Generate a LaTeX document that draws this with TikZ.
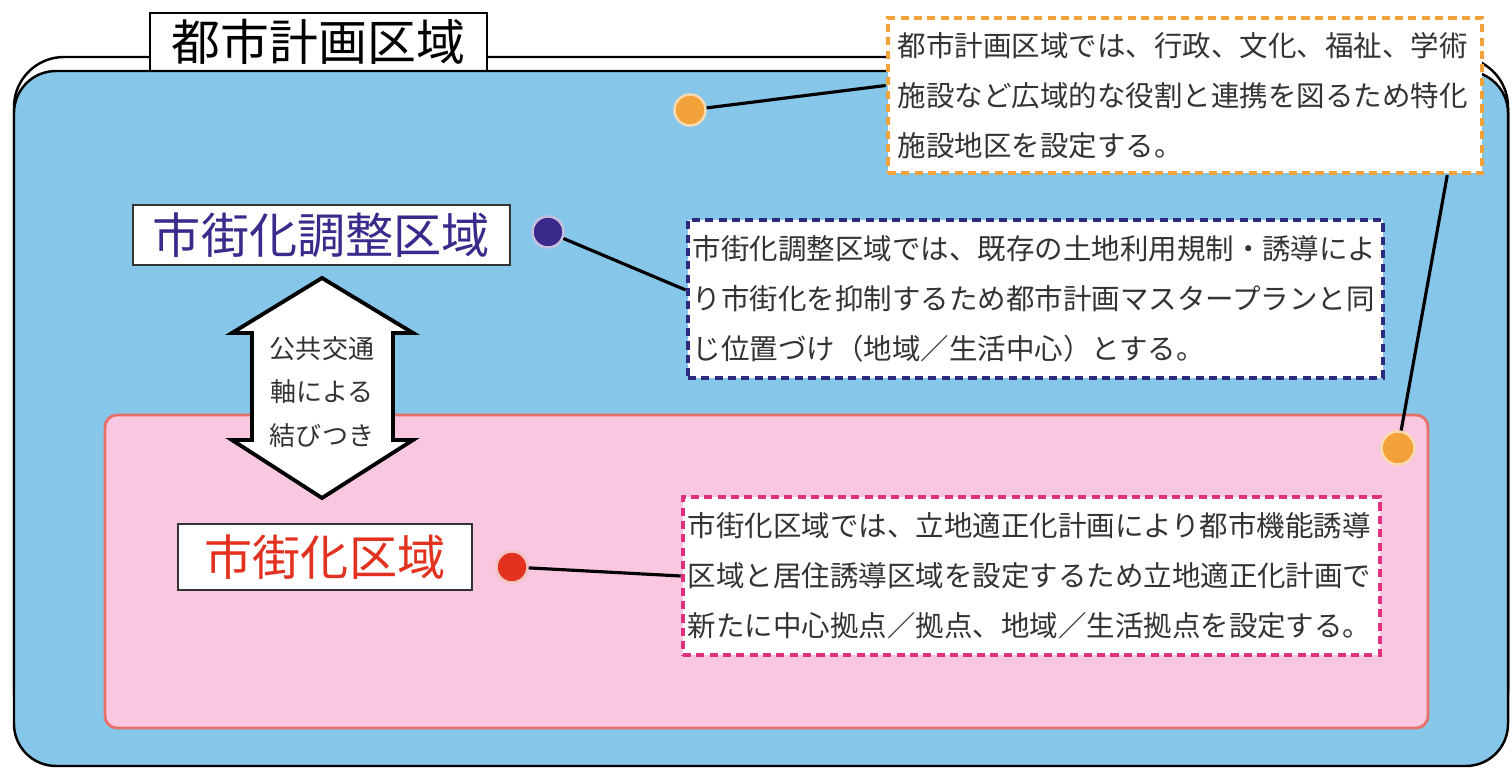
\documentclass[tikz,border=0pt]{standalone}
\usepackage{fontspec}
\usepackage{tikz}
\usetikzlibrary{positioning,calc}
\setmainfont{Noto Sans CJK JP}
\definecolor{ink}{HTML}{333333}
\definecolor{sky}{HTML}{86C7E9}
\definecolor{blush}{HTML}{F9C8E0}
\definecolor{rim}{HTML}{E8706A}
\definecolor{amber}{HTML}{F3A23A}
\definecolor{violet}{HTML}{3B2A8C}
\definecolor{navy}{HTML}{2D2B7E}
\definecolor{scarlet}{HTML}{E2311F}
\definecolor{magenta}{HTML}{E0317E}

\tikzset{
  notebox/.style={
    draw,
    fill=white,
    line width=1.2pt,
    dash pattern=on 2.3pt off 1.5pt,
    text=ink,
    align=left,
    inner ysep=0pt,
    font=\fontsize{8.1}{14.2}\selectfont
  },
  zonebox/.style={
    draw=ink,
    fill=white,
    line width=0.6pt,
    inner sep=0pt,
    font=\fontsize{13.7}{16}\selectfont
  },
  spot/.style={circle, inner sep=0pt, minimum size=0.31cm, line width=0.7pt},
  leader/.style={draw=black, line width=0.9pt}
}

\begin{document}
\begin{tikzpicture}[x=0.01cm, y=-0.01cm]
        \useasboundingbox (0,0) rectangle (1512,768);
        % frame of the planning area
        \draw[fill=white, line width=0.7pt, rounded corners=0.5cm] (14,57) rectangle (1508,740);
        \node[
          zonebox,
          draw=black,
          minimum width=3.37cm,
          minimum height=0.58cm,
          font=\fontsize{13.9}{16}\selectfont
        ] (planning) at (318.5,42) {都市計画区域};
        \draw[fill=sky, line width=0.7pt, rounded corners=0.42cm] (14,71) rectangle (1508,766);
        % urbanization promotion area
        \draw[fill=blush, draw=rim, line width=0.8pt, rounded corners=0.12cm] (105,415) rectangle (1428,728);

        % link between the two areas
        \draw[fill=white, line width=1.1pt, line join=miter]
          (322,278) -- (413,333) -- (393,333) -- (393,440) -- (413,440) -- (322,498)
          -- (232,440) -- (252,440) -- (252,333) -- (232,333) -- cycle;
        \node[
          text=ink,
          align=center,
          font=\fontsize{7.4}{12.4}\selectfont
        ] (link) at (322,392) {公共交通\\軸による\\結びつき};

        % zone labels
        \node[
          zonebox,
          text=violet,
          minimum width=3.77cm,
          minimum height=0.6cm
        ] (control) at (321.5,235) {市街化調整区域};
        \node[
          zonebox,
          text=scarlet,
          minimum width=2.94cm,
          minimum height=0.66cm
        ] (urban) at (325,557) {市街化区域};

        % notes
        \node[
          notebox,
          draw=amber,
          inner xsep=0.1cm,
          text width=5.74cm,
          minimum height=1.55cm
        ] (facnote) at (1185,95.5) {都市計画区域では、行政、文化、福祉、学術\\施設など広域的な役割と連携を図るため特化\\施設地区を設定する。};
        \node[
          notebox,
          draw=navy,
          inner xsep=0.05cm,
          text width=6.85cm,
          minimum height=1.58cm
        ] (ctrlnote) at (1035.5,299) {市街化調整区域では、既存の土地利用規制・誘導によ\\り市街化を抑制するため都市計画マスタープランと同\\じ位置づけ（地域／生活中心）とする。};
        \node[
          notebox,
          draw=magenta,
          inner xsep=0.05cm,
          text width=6.87cm,
          minimum height=1.58cm
        ] (urbnote) at (1031.5,576) {市街化区域では、立地適正化計画により都市機能誘導\\区域と居住誘導区域を設定するため立地適正化計画で\\新たに中心拠点／拠点、地域／生活拠点を設定する。};

        % spots
        \node[spot, fill=amber, draw=amber!40!white] (facspot) at (690,110) {};
        \node[spot, fill=amber, draw=amber!40!white, minimum size=0.33cm] (facspot2) at (1398,448) {};
        \node[spot, fill=violet, draw=violet!30!white] (ctrlspot) at (548,232) {};
        \node[spot, fill=scarlet, draw=scarlet!30!white] (urbspot) at (512,567) {};

        % leaders
        \draw[leader] (facspot) -- ([yshift=0.1cm]facnote.west);
        \draw[leader] ([xshift=-0.37cm]facnote.south east) -- (facspot2);
        \draw[leader] (ctrlspot) -- ([yshift=0.09cm]ctrlnote.west);
        \draw[leader] (urbspot) -- (urbnote.west);
      \end{tikzpicture}
\end{document}
